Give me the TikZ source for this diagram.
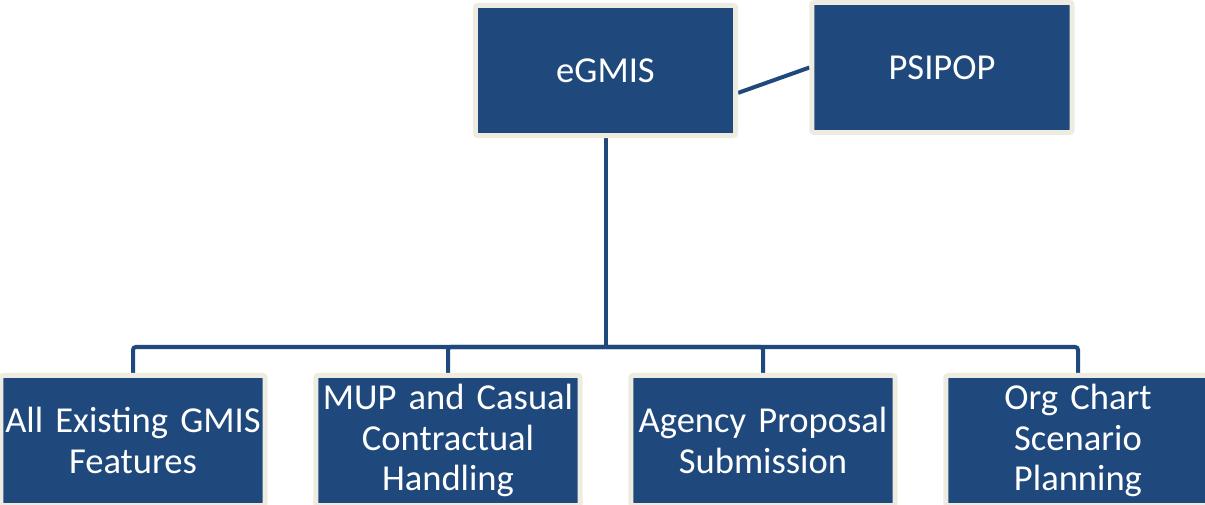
\documentclass[tikz,border=0pt]{standalone}
\usepackage{fontspec}
\setmainfont{Carlito}[WordSpace=0.8]
\usepackage{xcolor}
\usepackage{tikz}
\usetikzlibrary{positioning, backgrounds}
\definecolor{boxblue}{RGB}{31,73,125}
\definecolor{boxcream}{RGB}{238,236,225}

\begin{document}
\begin{tikzpicture}[
    x=0.025cm, y=-0.025cm,
    % Node styles
    topbox/.style={rectangle, rounded corners=1.5pt, minimum width=6.5cm, minimum height=3.25cm,
                   text centered, draw=boxcream, line width=0.125cm, fill=boxblue, text=white,
                   font=\fontsize{26}{31}\selectfont},
    featbox/.style={rectangle, rounded corners=1.5pt, minimum width=6.52cm, minimum height=3.25cm,
                    text width=6.6cm, align=center, draw=boxcream, line width=0.125cm, fill=boxblue,
                    text=white, inner sep=0pt, font=\fontsize{26}{29}\selectfont},
    link/.style={draw=boxblue, line width=0.1cm, rounded corners=2pt}
]
\useasboundingbox (0,0) rectangle (1205,505);

% Top row
\node (egmis) [topbox] at (605.5,70.5) {eGMIS};
\node (psipop) [topbox] at (942,67.5) {PSIPOP};

% Bottom row
\node (allgmis) [featbox] at (133,440.5) {All Existing GMIS\\Features};
\node (mup) [featbox] at (448,440.5) {MUP and Casual\\Contractual\\Handling};
\node (agency) [featbox] at (763,440.5) {Agency Proposal\\Submission};
\node (orgchart) [featbox] at (1078,440.5) {Org Chart\\Scenario\\Planning};

% Branch point
\coordinate (split) at (605.5,347);

% Connectors
\begin{scope}[on background layer]
\draw [link] ([yshift=-0.56cm]egmis.east) -- (psipop.west);
\draw [link] (egmis.south) -- (split);
\draw [link] (split) -| (allgmis.north);
\draw [link] (split) -| (mup.north);
\draw [link] (split) -| (agency.north);
\draw [link] (split) -| (orgchart.north);
\end{scope}

\end{tikzpicture}
\end{document}
